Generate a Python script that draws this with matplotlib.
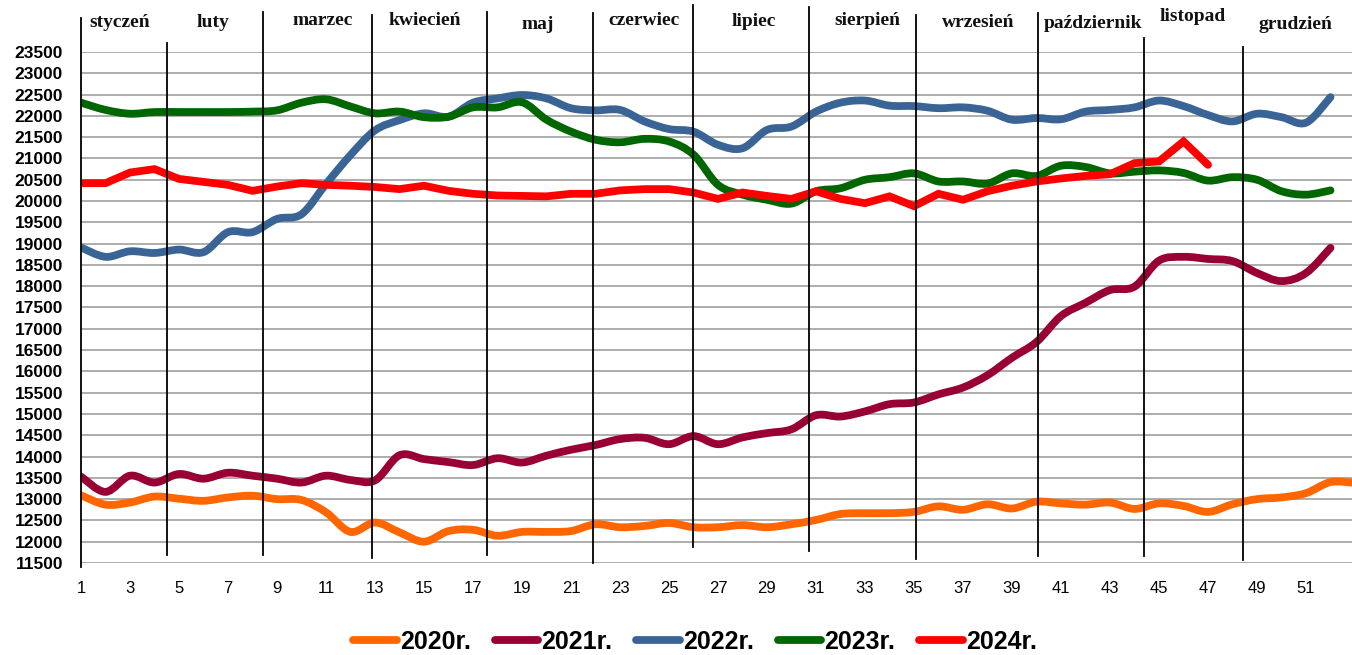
import matplotlib
matplotlib.use("Agg")
import matplotlib.pyplot as plt
import matplotlib.transforms as mtransforms
from matplotlib.path import Path
from matplotlib.patches import PathPatch
from matplotlib.lines import Line2D

# ---------------- data ----------------
weeks = list(range(1, 53))
weeks_2020 = list(range(1, 54))
weeks_2024 = list(range(1, 48))

y2020 = [13090, 12870, 12920, 13060, 13010, 12960, 13040, 13080, 13000, 12980,
         12690, 12230, 12450, 12220, 12000, 12250, 12280, 12140, 12230, 12230,
         12250, 12410, 12340, 12370, 12440, 12340, 12340, 12390, 12340, 12410,
         12510, 12650, 12670, 12670, 12700, 12830, 12750, 12880, 12780, 12940,
         12900, 12870, 12920, 12770, 12900, 12840, 12700, 12880, 13000, 13040,
         13140, 13400, 13380]
y2021 = [13530, 13170, 13550, 13390, 13590, 13480, 13620, 13550, 13480, 13390,
         13550, 13450, 13440, 14030, 13940, 13870, 13800, 13960, 13860, 14020,
         14160, 14270, 14410, 14440, 14290, 14480, 14290, 14450, 14550, 14640,
         14970, 14940, 15060, 15230, 15270, 15460, 15620, 15910, 16320, 16690,
         17300, 17610, 17910, 17990, 18600, 18690, 18640, 18590, 18310, 18120,
         18310, 18900]
y2022 = [18910, 18690, 18820, 18780, 18860, 18800, 19270, 19270, 19580, 19690,
         20400, 21080, 21660, 21900, 22060, 21980, 22310, 22410, 22490, 22410,
         22180, 22130, 22140, 21870, 21690, 21630, 21320, 21240, 21670, 21750,
         22100, 22310, 22360, 22240, 22230, 22180, 22200, 22120, 21910, 21950,
         21920, 22100, 22140, 22200, 22360, 22230, 22020, 21870, 22050, 21970,
         21840, 22440]
y2023 = [22310, 22140, 22050, 22090, 22090, 22090, 22090, 22100, 22130, 22310,
         22390, 22220, 22060, 22100, 21970, 21980, 22200, 22200, 22320, 21910,
         21630, 21440, 21380, 21460, 21400, 21090, 20380, 20150, 20030, 19940,
         20230, 20300, 20500, 20560, 20650, 20460, 20460, 20410, 20650, 20590,
         20830, 20800, 20650, 20690, 20720, 20660, 20480, 20560, 20500, 20230,
         20150, 20250]
y2024 = [20420, 20420, 20670, 20750, 20520, 20450, 20380, 20240, 20340, 20420,
         20380, 20360, 20330, 20280, 20360, 20240, 20170, 20130, 20120, 20110,
         20170, 20170, 20250, 20280, 20280, 20200, 20050, 20200, 20120, 20050,
         20230, 20050, 19950, 20110, 19880, 20170, 20030, 20230, 20360, 20460,
         20530, 20590, 20630, 20890, 20930, 21400, 20850]

series_labels = ["2020r.", "2021r.", "2022r.", "2023r.", "2024r."]
months = ["styczeń", "luty", "marzec", "kwiecień", "maj", "czerwiec", "lipiec",
          "sierpień", "wrzesień", "październik", "listopad", "grudzień"]
y_ticks = list(range(11500, 24000, 500))
x_ticks = list(range(1, 53, 2))

# ---------------- layout / style ----------------
colors = ["#FF6600", "#990033", "#3A6496", "#006600", "#FF0000"]
smooth = [True, True, True, True, False]
LW = 5.6

# month label positions (week units, axes-fraction y)
month_x = [2.59, 6.39, 10.88, 15.04, 19.65, 23.98, 28.47, 33.08, 37.61, 42.31, 46.39, 50.55]
month_y = [1.057, 1.057, 1.061, 1.061, 1.053, 1.061, 1.059, 1.061, 1.057, 1.055, 1.069, 1.053]
# separator lines: x (weeks), top / bottom (axes fraction)
sep_x = [1.0, 4.51, 8.43, 12.88, 17.57, 21.9, 25.98, 30.71, 35.08, 40.06, 44.39, 48.43]
sep_top = [1.067, 1.018, 1.078, 1.072, 1.078, 1.076, 1.092, 1.088, 1.072, 1.076, 1.027, 1.010]
sep_bot = [-0.008, 0.016, 0.016, 0.010, 0.016, 0.0, 0.031, 0.023, 0.008, 0.014, 0.014, 0.006]

fig = plt.figure(figsize=(13.52, 6.55), dpi=100)
ax = fig.add_axes([81 / 1352, 92 / 655, 1 - 81 / 1352, 511 / 655])
ax.set_xlim(1, 1 + (1352 - 81) / 24.5)
ax.set_ylim(11500, 23500)
for s in ax.spines.values():
    s.set_visible(False)

ax.set_yticks(y_ticks)
ax.set_yticklabels([str(v) for v in y_ticks], fontfamily="Liberation Sans",
                   fontweight="bold", fontsize=12.5)
ax.set_xticks(x_ticks)
ax.set_xticklabels([str(v) for v in x_ticks], fontfamily="Liberation Sans", fontsize=12)
ax.tick_params(axis="y", length=0, pad=13)
ax.tick_params(axis="x", length=0, pad=13)
ax.yaxis.grid(True, color="#A0A0A0", lw=1.2)
ax.set_axisbelow(True)


def smooth_path(xs, ys):
    n = len(xs)
    pts = list(zip(xs, ys))
    verts = [pts[0]]
    codes = [Path.MOVETO]
    for i in range(n - 1):
        p0 = pts[i - 1] if i > 0 else pts[i]
        p1 = pts[i]
        p2 = pts[i + 1]
        p3 = pts[i + 2] if i + 2 < n else pts[i + 1]
        c1 = (p1[0] + (p2[0] - p0[0]) / 6, p1[1] + (p2[1] - p0[1]) / 6)
        c2 = (p2[0] - (p3[0] - p1[0]) / 6, p2[1] - (p3[1] - p1[1]) / 6)
        verts += [c1, c2, p2]
        codes += [Path.CURVE4] * 3
    return Path(verts, codes)


all_x = [weeks_2020, weeks, weeks, weeks, weeks_2024]
all_y = [y2020, y2021, y2022, y2023, y2024]
for xs, ys, c, sm in zip(all_x, all_y, colors, smooth):
    if sm:
        patch = PathPatch(smooth_path(xs, ys), fill=False, edgecolor=c, lw=LW,
                          capstyle="round", joinstyle="round", zorder=3)
        ax.add_patch(patch)
    else:
        ax.plot(xs, ys, color=c, lw=LW, solid_capstyle="round",
                solid_joinstyle="miter", zorder=3)

trans = mtransforms.blended_transform_factory(ax.transData, ax.transAxes)
for x, t, b in zip(sep_x, sep_top, sep_bot):
    ax.plot([x, x], [b, t], color="black", lw=1.3, transform=trans,
            clip_on=False, zorder=4)

for name, x, y in zip(months, month_x, month_y):
    ax.text(x, y, name, transform=trans, ha="center", va="center",
            fontfamily=["Liberation Serif", "DejaVu Serif"], fontweight="bold",
            fontsize=14, color="#111111", zorder=5)

handles = [Line2D([0], [0], color=c, lw=LW, solid_capstyle="round") for c in colors]
fig.legend(handles, series_labels, loc="center", bbox_to_anchor=(0.514, 0.02),
           ncol=5, frameon=False, handlelength=1.75, handletextpad=0.12,
           columnspacing=0.95,
           prop={"family": ["Liberation Sans Narrow", "Liberation Sans"],
                 "weight": "bold", "size": 18})

fig.savefig("out.png", dpi=100)
